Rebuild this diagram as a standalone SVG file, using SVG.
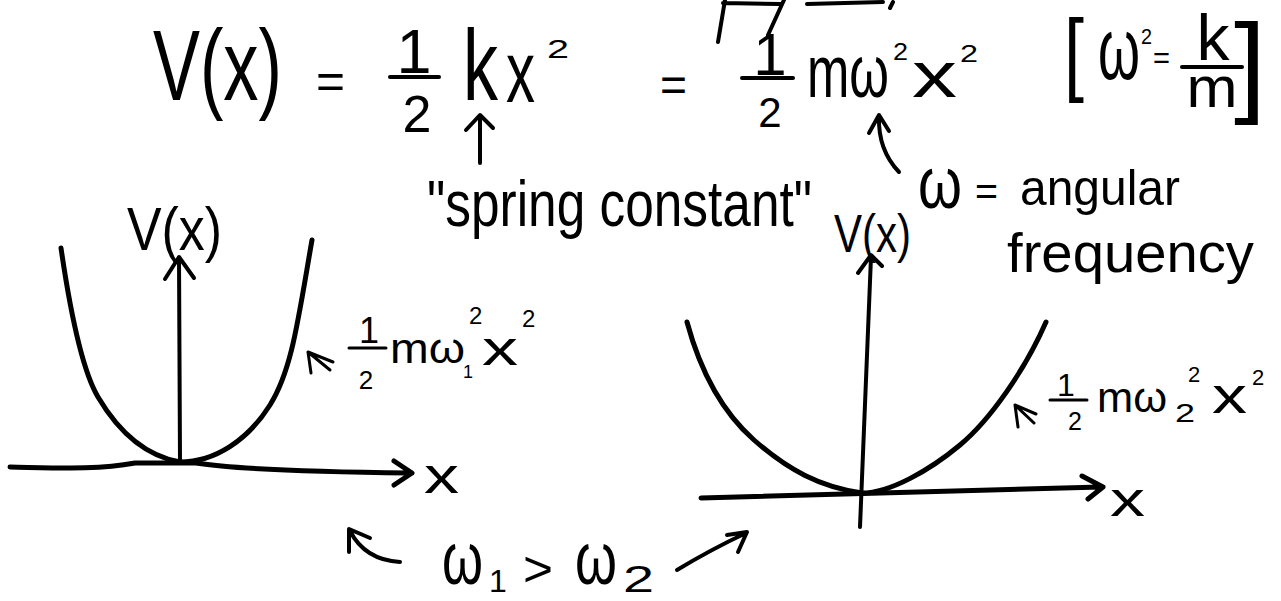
<svg xmlns="http://www.w3.org/2000/svg" width="1281" height="601" viewBox="0 0 1281 601">
<style>
text{font-family:"Liberation Sans",Arial,sans-serif;fill:#000}
.s{fill:none;stroke:#000;stroke-linecap:round;stroke-linejoin:round}
.t3{stroke-width:3}
.t4{stroke-width:4}
.t5{stroke-width:5}
</style>
<rect width="1281" height="601" fill="#fff"/>

<g id="top-fragments" class="s t4">
<path d="M725,0 L718,42 M723,3 L780,4 M784,0 L768,35 M807,4 L883,2 M893,2 L890,8"/>
</g>

<g id="equation">
<text x="153" y="100" font-size="100" textLength="129" lengthAdjust="spacingAndGlyphs">V(x)</text>
<text x="316" y="98" font-size="50" textLength="29" lengthAdjust="spacingAndGlyphs">=</text>
<text x="414" y="73" font-size="63" text-anchor="middle">1</text>
<path class="s t4" d="M390,77 L439,77"/>
<text x="417" y="132" font-size="52" text-anchor="middle">2</text>
<text x="463" y="100" font-size="100" textLength="35" lengthAdjust="spacingAndGlyphs">k</text>
<text x="506" y="102" font-size="87" textLength="29" lengthAdjust="spacingAndGlyphs">x</text>
<text x="547" y="58" font-size="26" textLength="22" lengthAdjust="spacingAndGlyphs">2</text>

<text x="660" y="101" font-size="48" textLength="27" lengthAdjust="spacingAndGlyphs">=</text>
<text x="770" y="75" font-size="60" text-anchor="middle">1</text>
<path class="s t4" d="M742,78 L793,78"/>
<text x="770" y="127" font-size="42" text-anchor="middle">2</text>
<text x="807" y="97" font-size="75" textLength="82" lengthAdjust="spacingAndGlyphs">mω</text>
<text x="893" y="60" font-size="24" textLength="15" lengthAdjust="spacingAndGlyphs">2</text>
<text x="912" y="97" font-size="65" textLength="45" lengthAdjust="spacingAndGlyphs">x</text>
<text x="960" y="62" font-size="24" textLength="18" lengthAdjust="spacingAndGlyphs">2</text>

<text x="1064" y="84" font-size="92" textLength="20" lengthAdjust="spacingAndGlyphs">[</text>
<text x="1098" y="79" font-size="87" textLength="42" lengthAdjust="spacingAndGlyphs">ω</text>
<text x="1141" y="44" font-size="22" textLength="11" lengthAdjust="spacingAndGlyphs">2</text>
<text x="1153" y="68" font-size="30" textLength="17" lengthAdjust="spacingAndGlyphs">=</text>
<text x="1213" y="60" font-size="65" text-anchor="middle" textLength="33" lengthAdjust="spacingAndGlyphs">k</text>
<path class="s t4" d="M1182,67 L1242,67"/>
<text x="1212" y="107" font-size="58" text-anchor="middle" textLength="51" lengthAdjust="spacingAndGlyphs">m</text>
<text x="1234" y="102" font-size="112" textLength="32" lengthAdjust="spacingAndGlyphs">]</text>
</g>

<g id="spring-label">
<text x="427" y="226" font-size="64" textLength="385" lengthAdjust="spacingAndGlyphs">"spring constant"</text>
</g>

<g id="omega-label">
<text x="918" y="208" font-size="72" textLength="44" lengthAdjust="spacingAndGlyphs">ω</text>
<text x="975" y="205" font-size="40" textLength="23" lengthAdjust="spacingAndGlyphs">=</text>
<text x="1020" y="205" font-size="50" textLength="160" lengthAdjust="spacingAndGlyphs">angular</text>
<text x="1007" y="272" font-size="56" textLength="247" lengthAdjust="spacingAndGlyphs">frequency</text>
</g>

<g id="left-graph">
<path class="s t5" d="M61,248 C70,310 82,370 98,397 S140,455 180,462 C215,462 248,440 270,405 S298,320 312,240"/>
<path class="s t4" d="M180,462 L179,258 M165,279 L179,257 L194,278"/>
<path class="s t5" d="M10,467 C60,468 98,470 135,463 L196,463 C240,470 320,472 410,473 M394,461 L412,473 L394,485"/>
<text x="127" y="250" font-size="62" textLength="95" lengthAdjust="spacingAndGlyphs">V(x)</text>
<text x="424" y="493" font-size="50" textLength="35" lengthAdjust="spacingAndGlyphs">x</text>
<text x="369" y="343" font-size="36" text-anchor="middle">1</text>
<path class="s t3" d="M349,348 L386,348"/>
<text x="366" y="389" font-size="26" text-anchor="middle">2</text>
<text x="390" y="363" font-size="42" textLength="75" lengthAdjust="spacingAndGlyphs">mω</text>
<text x="463" y="378" font-size="18">1</text>
<text x="469" y="324" font-size="24">2</text>
<text x="482" y="365" font-size="48" textLength="36" lengthAdjust="spacingAndGlyphs">x</text>
<text x="522" y="327" font-size="24">2</text>
</g>

<g id="right-graph">
<path class="s t5" d="M687,322 C700,370 720,410 754,440 S820,487 862,493 C890,493 930,470 960,445 S1025,370 1046,322"/>
<path class="s t4" d="M860,527 L871,257 M858,273 L871,255 L882,266"/>
<path class="s t5" d="M701,498 L1101,487 M1082,476 L1103,487 L1088,499"/>
<text x="834" y="252" font-size="54" textLength="77" lengthAdjust="spacingAndGlyphs">V(x)</text>
<text x="1110" y="516" font-size="48" textLength="35" lengthAdjust="spacingAndGlyphs">x</text>
<text x="1066" y="396" font-size="32" text-anchor="middle">1</text>
<path class="s t3" d="M1050,400 L1087,400"/>
<text x="1075" y="430" font-size="25" text-anchor="middle">2</text>
<text x="1097" y="412" font-size="42" textLength="70" lengthAdjust="spacingAndGlyphs">mω</text>
<text x="1175" y="422" font-size="25" textLength="20" lengthAdjust="spacingAndGlyphs">2</text>
<text x="1188" y="382" font-size="22">2</text>
<text x="1212" y="413" font-size="50" textLength="35" lengthAdjust="spacingAndGlyphs">x</text>
<text x="1252" y="385" font-size="22">2</text>
</g>

<g id="comparison">
<text x="442" y="584" font-size="74" textLength="41" lengthAdjust="spacingAndGlyphs">ω</text>
<text x="489" y="592" font-size="32">1</text>
<text x="523" y="586" font-size="50" textLength="30" lengthAdjust="spacingAndGlyphs">&gt;</text>
<text x="575" y="584" font-size="74" textLength="42" lengthAdjust="spacingAndGlyphs">ω</text>
<text x="623" y="592" font-size="36" textLength="31" lengthAdjust="spacingAndGlyphs">2</text>
</g>

<g id="connectors" class="s t4">
<path d="M480,163 L480,117 M466,130 L480,115 L493,128"/>
<path d="M899,172 Q878,150 879,117 M869,133 L879,115 L889,131"/>
<path class="t3" d="M330,370 L308,352 M311,373 L308,352 L333,362"/>
<path class="t3" d="M1034,423 L1015,405 M1018,427 L1015,405 L1036,414"/>
<path d="M400,562 Q365,560 350,531 M349,552 L349,529 L370,538"/>
<path d="M677,570 Q710,550 746,533 M727,535 L747,532 L738,552"/>
</g>
</svg>
